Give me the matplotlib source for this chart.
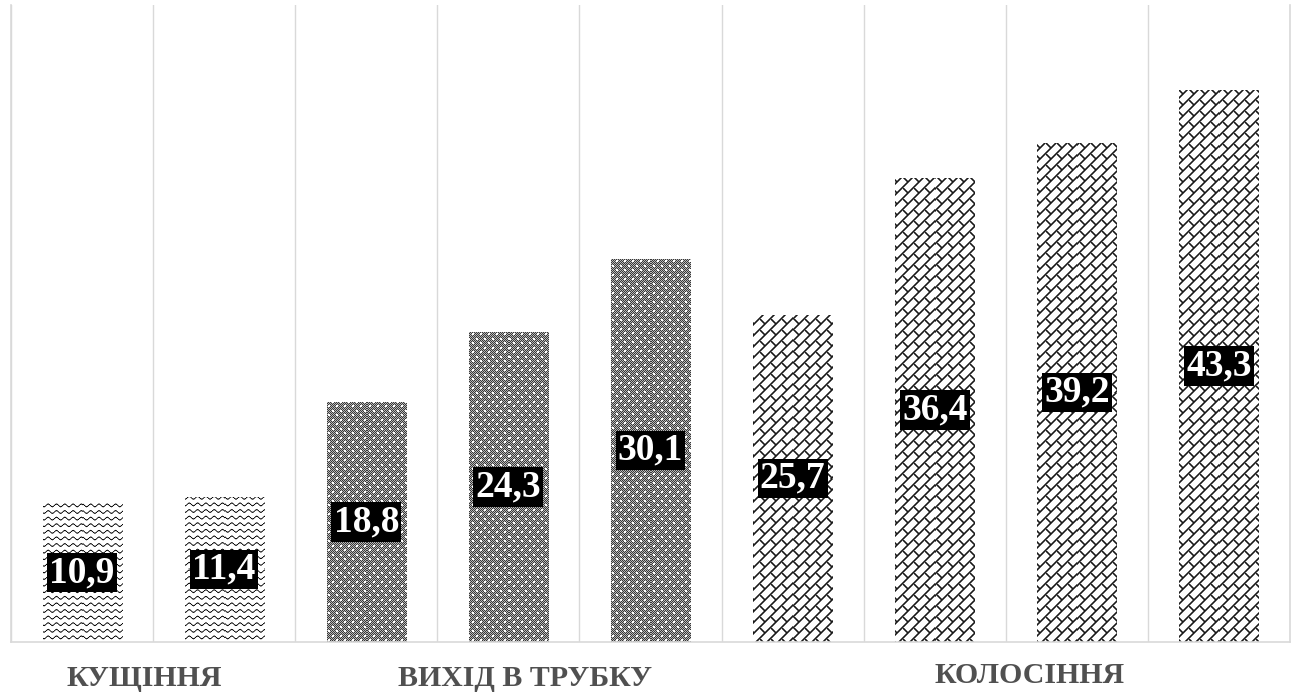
import numpy as np
import matplotlib
matplotlib.use("Agg")
import matplotlib.pyplot as plt

# Plant development phases and measured values
phases = ["КУЩІННЯ", "ВИХІД В ТРУБКУ", "КОЛОСІННЯ"]
phase_of_bar = [0, 0, 1, 1, 1, 2, 2, 2, 2]
values = [10.9, 11.4, 18.8, 24.3, 30.1, 25.7, 36.4, 39.2, 43.3]
value_labels = [f"{v:.1f}".replace(".", ",") for v in values]

# Where each phase caption sits (x in bar units, y in axes fraction)
phase_label_x = [0.44, 3.12, 6.67]
phase_label_y = [-0.058, -0.058, -0.053]

W, H, DPI = 1296, 694, 100
fig = plt.figure(figsize=(W / DPI, H / DPI), dpi=DPI)
ax = fig.add_axes([11 / W, 52 / H, 1279 / W, 637 / H])

n = len(values)
x = np.arange(n)
ax.set_xlim(-0.5, n - 0.5)
ax.set_ylim(0, 50)

grid_c = "#d9d9d9"
ax.spines["top"].set_visible(False)
for side in ("left", "right", "bottom"):
    ax.spines[side].set_color(grid_c)
    ax.spines[side].set_linewidth(1.2)
ax.set_xticks(np.arange(n + 1) - 0.5, minor=True)
ax.set_xticks([])
ax.set_yticks([])
ax.grid(which="minor", axis="x", color=grid_c, linewidth=1.0)
ax.tick_params(which="both", length=0, labelbottom=False, labelleft=False)
ax.set_axisbelow(True)

bars = ax.bar(x, values, width=0.556, facecolor="none", linewidth=0, zorder=2)


# --- fill textures, computed on the global pixel grid ---
def wave_tex(I, J):
    sp, per = 6.6, 8.3
    yc = 1.3 * np.sin(2 * np.pi * J / per)
    d = ((I - yc) % sp) - sp / 2
    dark = np.clip(1.1 - np.abs(d), 0, 1)
    return 1 - 0.95 * dark


def dense_tex(I, J):
    base = np.where((I + J) % 2 == 0, 0.22, 0.72)
    a = (I % 9 < 2) & (J % 8 < 2)
    b = ((I + 4) % 9 < 2) & ((J + 4) % 8 < 2)
    return np.where(a | b, 1.0, base)


def brick_tex(I, J):
    P = 11.0
    L = 2 * P
    s = I + J
    d1 = ((s + P / 2) % P) - P / 2
    w1 = np.abs(d1) / np.sqrt(2)
    dark1 = np.clip(1.0 - (w1 - 0.5) / 0.6, 0, 1)
    k = np.floor(s / P)
    t = J - I - (k % 2) * L / 2
    d2 = ((t + L / 2) % L) - L / 2
    w2 = np.abs(d2) / np.sqrt(2)
    dark2 = np.clip(1.0 - (w2 - 0.5) / 0.6, 0, 1)
    dark = np.maximum(dark1, dark2)
    return 1 - 0.9 * dark


textures = [wave_tex, dense_tex, brick_tex]

fig.canvas.draw()
for bar, ph in zip(bars, phase_of_bar):
    bb = bar.get_window_extent()
    x0, x1 = int(round(bb.x0)), int(round(bb.x1))
    top, bot = int(round(H - bb.y1)), int(round(H - bb.y0))
    I, J = np.mgrid[top:bot, x0:x1].astype(float)
    tex = textures[ph](I, J)
    bx, by = bar.get_x(), bar.get_y()
    im = ax.imshow(tex, cmap="gray", vmin=0, vmax=1, interpolation="nearest",
                   extent=(bx, bx + bar.get_width(), by, by + bar.get_height()),
                   aspect="auto", zorder=2)
    im.set_clip_path(bar)

ax.set_xlim(-0.5, n - 0.5)
ax.set_ylim(0, 50)

# Value labels in the middle of each bar
for xi, v, lab in zip(x, values, value_labels):
    ax.text(xi, v / 2, lab, ha="center", va="center", color="white",
            fontsize=27, fontweight="bold", family="Liberation Serif",
            bbox=dict(boxstyle="square,pad=0.06", fc="black", ec="none"),
            zorder=5)

# Phase captions under the bars
for name, lx, ly in zip(phases, phase_label_x, phase_label_y):
    ax.text(lx, ly, name, transform=ax.get_xaxis_transform(),
            ha="center", va="center", color="#505050", fontsize=21.5,
            fontweight="bold", family="Liberation Serif", clip_on=False)

fig.savefig("out.png", dpi=DPI)
